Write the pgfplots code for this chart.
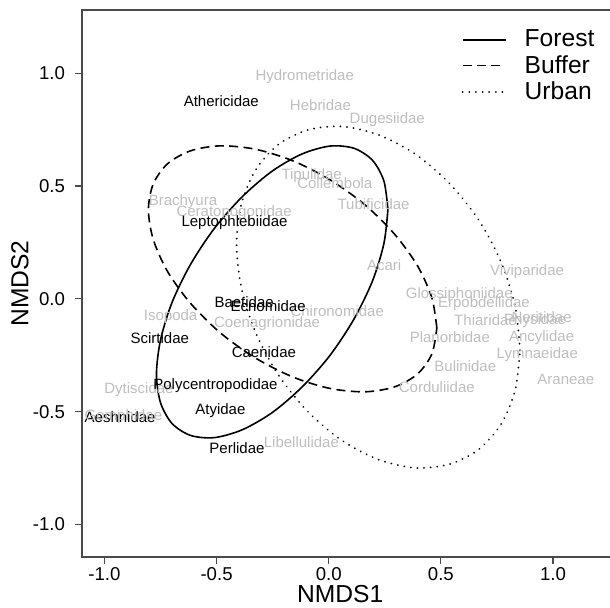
\documentclass[border=0pt]{standalone}
\usepackage{fontspec}
\setmainfont{Liberation Sans}
\usepackage{pgfplots}
\pgfplotsset{compat=1.18}
\usepackage{pgfplotstable}
\definecolor{lbl}{HTML}{BEBEBE}
\definecolor{axc}{HTML}{4A4A4A}

\pgfplotstableread{
x y
0.264 0.396
0.246 0.522
0.195 0.614
0.113 0.667
0.006 0.677
-0.119 0.642
-0.252 0.566
-0.385 0.453
-0.510 0.312
-0.617 0.151
-0.699 -0.017
-0.750 -0.183
-0.768 -0.334
-0.750 -0.460
-0.699 -0.552
-0.617 -0.605
-0.510 -0.615
-0.385 -0.580
-0.252 -0.504
-0.119 -0.391
0.006 -0.250
0.113 -0.089
0.195 0.079
0.246 0.245
0.264 0.396
}\forest

\pgfplotstableread{
x y
0.482 -0.129
0.460 0.004
0.396 0.146
0.294 0.286
0.161 0.417
0.005 0.528
-0.161 0.612
-0.327 0.663
-0.483 0.678
-0.616 0.656
-0.718 0.599
-0.782 0.510
-0.804 0.395
-0.782 0.262
-0.718 0.120
-0.616 -0.020
-0.483 -0.151
-0.327 -0.262
-0.161 -0.346
0.005 -0.397
0.161 -0.412
0.294 -0.390
0.396 -0.333
0.460 -0.244
0.482 -0.129
}\buffer

\pgfplotstableread{
x y
0.853 -0.228
0.831 -0.033
0.768 0.164
0.668 0.350
0.537 0.513
0.385 0.642
0.221 0.727
0.058 0.764
-0.095 0.748
-0.226 0.683
-0.326 0.571
-0.389 0.421
-0.411 0.243
-0.389 0.048
-0.326 -0.149
-0.226 -0.335
-0.095 -0.498
0.058 -0.627
0.221 -0.712
0.385 -0.749
0.537 -0.733
0.668 -0.668
0.768 -0.556
0.831 -0.406
0.853 -0.228
}\urban

\pgfplotstableread{
x y label
-0.107 0.984 Hydrometridae
-0.037 0.857 Hebridae
0.261 0.794 Dugesiidae
-0.076 0.545 Tipulidae
0.027 0.513 Collembola
0.200 0.421 Tubificidae
-0.650 0.431 Brachyura
-0.422 0.384 Ceratopogonidae
0.247 0.151 Acari
0.884 0.121 Viviparidae
0.582 0.018 Glossiphoniidae
0.692 -0.019 Erpobdellidae
0.699 -0.093 Thiaridae
0.920 -0.098 Physidae
0.949 -0.080 Neritidae
0.949 -0.171 Ancylidae
0.540 -0.171 Planorbidae
0.930 -0.248 Lymnaeidae
0.609 -0.297 Bulinidae
1.057 -0.355 Araneae
0.482 -0.392 Corduliidae
0.038 -0.056 Chironomidae
-0.705 -0.081 Isopoda
-0.275 -0.112 Coenagrionidae
-0.846 -0.404 Dytiscidae
-0.122 -0.633 Libellulidae
}\graylabels

\pgfplotstableread{
x y label
-0.915 -0.523 Gomphidae
}\graylabelstop

\pgfplotstableread{
x y label
-0.479 0.874 Athericidae
-0.420 0.338 Leptophlebiidae
-0.377 -0.016 Baetidae
-0.270 -0.031 Ecnomidae
-0.753 -0.174 Scirtidae
-0.289 -0.238 Caenidae
-0.505 -0.386 Polycentropodidae
-0.483 -0.495 Atyidae
-0.930 -0.525 Aeshnidae
-0.409 -0.662 Perlidae
}\blacklabels

\begin{document}
\begin{tikzpicture}
\begin{axis}[
  scale only axis, width=264pt, height=273.5pt,
  xmin=-1.10, xmax=1.254, ymin=-1.144, ymax=1.28,
  clip=false,
  axis line style={draw=none},
  xtick={-1,-0.5,0,0.5,1}, xticklabels={{-1.0},{-0.5},{0.0},{0.5},{1.0}},
  ytick={-1,-0.5,0,0.5,1}, yticklabels={{-1.0},{-0.5},{0.0},{0.5},{1.0}},
  xtick pos=bottom, ytick pos=left,
  tick align=outside, major tick length=3.5pt,
  tick style={axc, line width=0.6pt},
  /pgf/number format/assume math mode=true,
  ticklabel style={font=\fontsize{9.3}{11}\selectfont, text=black},
  xticklabel style={yshift=2pt},
  yticklabel style={xshift=-1.5pt},
  xlabel={NMDS1}, ylabel={NMDS2},
  label style={font=\fontsize{12.3}{14}\selectfont},
  xlabel style={at={(axis description cs:0.489,-0.0676)}, anchor=center},
  ylabel style={at={(axis description cs:-0.1174,0.5)}, anchor=center},
  legend style={draw=none, fill=none, at={(axis description cs:0.707,0.979)}, anchor=north west,
    font=\fontsize{12.3}{14}\selectfont, row sep=-1.25pt,
    /tikz/every odd column/.append style={column sep=7pt}},
  legend cell align=left,
  legend image code/.code={\draw[#1] (0pt,0pt) -- (21.5pt,0pt);},
]
\addplot[black, line width=0.8pt, smooth] table {\forest};
\addlegendentry{Forest}
\addplot[black, line width=0.8pt, smooth, dash pattern=on 4.5pt off 2.7pt] table {\buffer};
\addlegendentry{Buffer}
\addplot[black, line width=1pt, smooth, line cap=round, dash pattern=on 0.01pt off 3.3pt] table {\urban};
\addlegendentry{Urban}

\addplot[forget plot, only marks, mark=none, nodes near coords, point meta=explicit symbolic,
  every node near coord/.append style={anchor=center, inner sep=0pt, text=lbl, font=\fontsize{7.5}{9}\selectfont}]
  table[meta=label] {\graylabels};
\addplot[forget plot, only marks, mark=none, nodes near coords, point meta=explicit symbolic,
  every node near coord/.append style={anchor=center, inner sep=0pt, text=black, font=\fontsize{7.5}{9}\selectfont}]
  table[meta=label] {\blacklabels};
\addplot[forget plot, only marks, mark=none, nodes near coords, point meta=explicit symbolic,
  every node near coord/.append style={anchor=center, inner sep=0pt, text=lbl, font=\fontsize{7.5}{9}\selectfont}]
  table[meta=label] {\graylabelstop};

\draw[axc, line width=0.6pt] (rel axis cs:1,1) -- (rel axis cs:0,1) -- (rel axis cs:0,0) -- (rel axis cs:1,0);
\end{axis}
\pgfresetboundingbox
\path (-41pt,-25.5pt) rectangle (264pt,278.5pt);
\end{tikzpicture}
\end{document}
